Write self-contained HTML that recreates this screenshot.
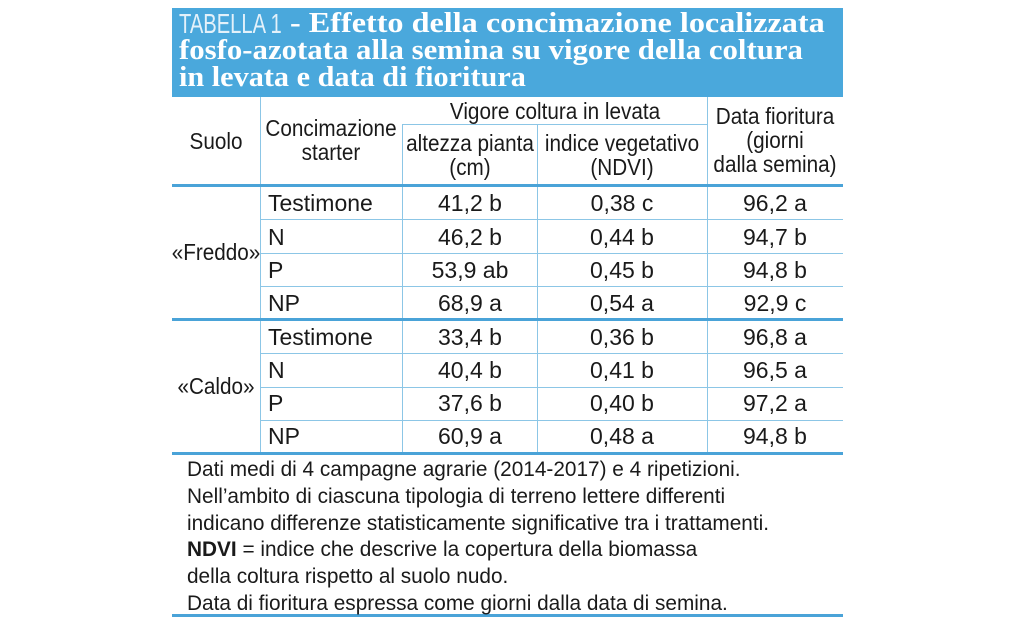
<!DOCTYPE html>
<html><head><meta charset="utf-8"><style>
body{margin:0;background:#fff;width:1024px;height:639px;position:relative;overflow:hidden;font-family:"Liberation Sans",sans-serif;color:#1a1a1a}
.a{position:absolute;white-space:nowrap}
.c{position:absolute;width:300px;text-align:center;white-space:nowrap;transform:scaleX(.9);transform-origin:center}
.l{position:absolute;white-space:nowrap;transform:scaleX(.9);transform-origin:left}
.hl{position:absolute;left:172px;width:671px;height:1px;background:#8cc6e6}
.thick{position:absolute;left:172px;width:671px;height:3px;background:#4aa3d8}
.vl{position:absolute;width:1px;background:#8cc6e6}
.cell{font-size:23px;line-height:24px}
.v{transform:none}
.t{position:absolute;white-space:nowrap;color:#fff;font-family:'Liberation Serif',serif;font-weight:bold;font-size:28px;line-height:28px;transform-origin:left}
.note{font-size:21px;line-height:22px;transform:scaleX(.99)}
</style></head><body>
<div class="a" style="left:172px;top:8px;width:671px;height:89px;background:#4aa8dc"></div>
<div>
<div class="t" style="left:179px;top:10px;font-family:'Liberation Sans',sans-serif;font-weight:normal;color:#e3f1fa;transform:scaleX(.72)">TABELLA 1</div>
<div class="t" style="left:290px;top:10px;transform:scaleX(1.15)">- Effetto della concimazione localizzata</div>
<div class="t" style="left:179px;top:37px;transform:scaleX(1.1)">fosfo-azotata alla semina su vigore della coltura</div>
<div class="t" style="left:179px;top:64px;transform:scaleX(1.08)">in levata e data di fioritura</div>
</div>

<div class="vl" style="left:260px;top:97px;height:356px"></div>
<div class="vl" style="left:402px;top:124px;height:329px"></div>
<div class="vl" style="left:537px;top:124px;height:329px"></div>
<div class="vl" style="left:707px;top:97px;height:356px"></div>
<div class="hl" style="left:402px;width:305px;top:124px"></div>
<div class="thick" style="top:184px"></div>
<div class="hl" style="left:260px;width:583px;top:219px"></div>
<div class="hl" style="left:260px;width:583px;top:253px"></div>
<div class="hl" style="left:260px;width:583px;top:286px"></div>
<div class="thick" style="top:318px"></div>
<div class="hl" style="left:260px;width:583px;top:353px"></div>
<div class="hl" style="left:260px;width:583px;top:387px"></div>
<div class="hl" style="left:260px;width:583px;top:420px"></div>
<div class="thick" style="top:452px"></div>
<div class="thick" style="top:614px"></div>

<div class="c cell" style="left:66px;top:129px">Suolo</div>
<div class="c cell" style="left:181px;top:116px">Concimazione<br>starter</div>
<div class="c cell" style="left:405px;top:99px">Vigore coltura in levata</div>
<div class="c cell" style="left:320px;top:131px">altezza pianta<br>(cm)</div>
<div class="c cell" style="left:472px;top:131px">indice vegetativo<br>(NDVI)</div>
<div class="c cell" style="left:625px;top:104px">Data fioritura<br>(giorni<br>dalla semina)</div>

<div class="c cell" style="left:66px;top:240px">«Freddo»</div>
<div class="c cell" style="left:66px;top:374px">«Caldo»</div>

<div id="rows"></div>

<div class="l note" style="left:187px;top:457px;line-height:26.8px">Dati medi di 4 campagne agrarie (2014-2017) e 4 ripetizioni.<br>Nell’ambito di ciascuna tipologia di terreno lettere differenti<br>indicano differenze statisticamente significative tra i trattamenti.<br><b>NDVI</b> = indice che descrive la copertura della biomassa<br>della coltura rispetto al suolo nudo.<br>Data di fioritura espressa come giorni dalla data di semina.</div>

<script>
const treatments=["Testimone","N","P","NP","Testimone","N","P","NP"];
const heights=["41,2 b","46,2 b","53,9 ab","68,9 a","33,4 b","40,4 b","37,6 b","60,9 a"];
const ndvi=["0,38 c","0,44 b","0,45 b","0,54 a","0,36 b","0,41 b","0,40 b","0,48 a"];
const flowering=["96,2 a","94,7 b","94,8 b","92,9 c","96,8 a","96,5 a","97,2 a","94,8 b"];
const tops=[191,225,258,291,325,358,391,424];
const root=document.getElementById('rows');
treatments.forEach((t,i)=>{
  const y=tops[i];
  const a=document.createElement('div');a.className='l cell v';a.style.left='268px';a.style.top=y+'px';a.textContent=t;
  
  
  root.appendChild(a);
  [[heights[i],470],[ndvi[i],622],[flowering[i],775]].forEach(([v,cx])=>{
    const d=document.createElement('div');d.className='c cell v';d.style.left=(cx-150)+'px';d.style.top=y+'px';d.textContent=v;
    
    
    root.appendChild(d);
  });
});
</script>
</body></html>
